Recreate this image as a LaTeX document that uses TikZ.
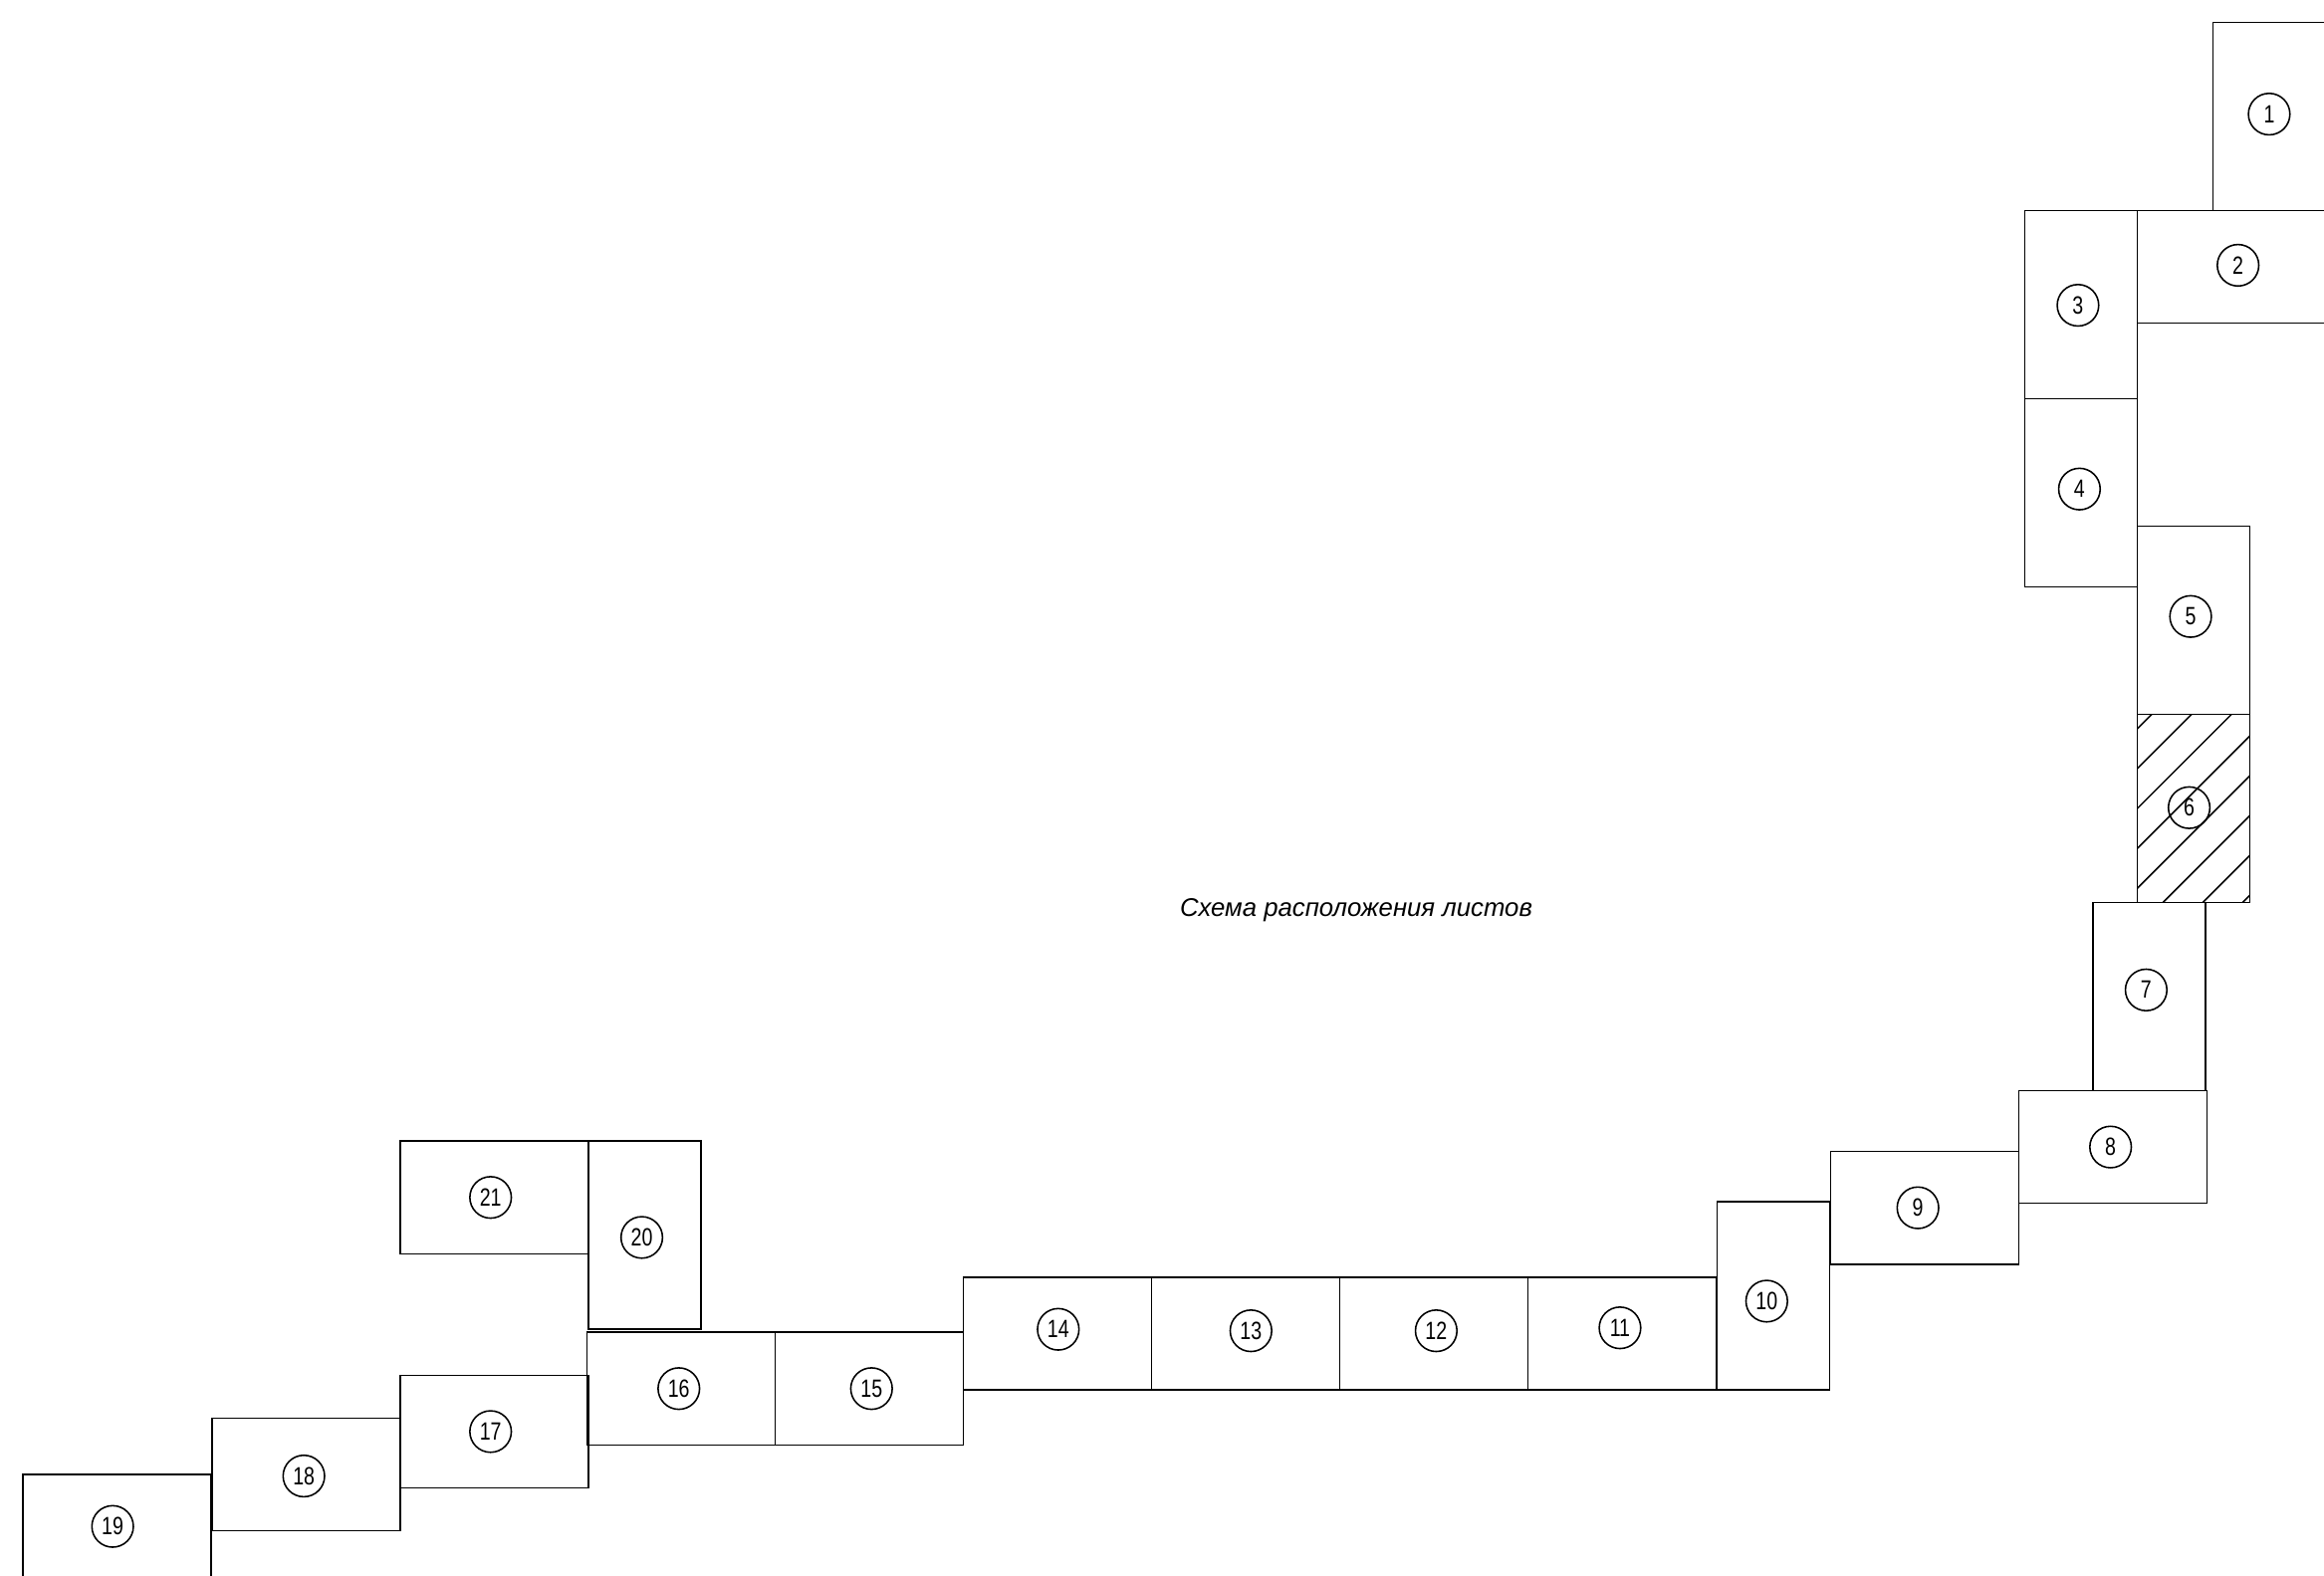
\documentclass[tikz,border=0pt]{standalone}
\usepackage{fontspec}
\setmainfont{Liberation Sans}
\newfontfamily\gostfont[FakeStretch=0.78]{Liberation Sans}
\usetikzlibrary{positioning}

\begin{document}
\begin{tikzpicture}[x=0.25mm, y=-0.25mm, line width=0.75pt, node distance=0pt,
  sheetw/.style={draw, minimum width=31.75mm, minimum height=19mm, inner sep=0pt, outer sep=0pt},
  sheett/.style={draw, minimum width=19mm, minimum height=31.75mm, inner sep=0pt, outer sep=0pt},
  num/.style={draw, circle, minimum size=7mm, inner sep=0pt, font=\gostfont\fontsize{12}{12}\selectfont}]
  \clip (0,0) rectangle (1568,1063);
  % upper right sheets
  \node[sheett] (s1) at (1531,78.5) {};
  \node[sheetw] (s2) at (1505.5,180) {};
  \node[sheett] (s3) at (1404,205.5) {};
  \node[sheett, below=of s3] (s4) {};
  \node[sheett] (s5) at (1480,418.5) {};
  \node[sheett, below=of s5] (s6) {};
  \node[sheett] (s7) at (1450,672.5) {};
  \node[sheetw] (s8) at (1425.5,774) {};
  \node[sheetw] (s9) at (1298.5,815) {};
  \node[sheett] (s10) at (1196.5,874.5) {};
  % bottom row
  \node[sheetw] (s11) at (1094.5,900) {};
  \node[sheetw, left=of s11] (s12) {};
  \node[sheetw, left=of s12] (s13) {};
  \node[sheetw, left=of s13] (s14) {};
  \node[sheetw] (s15) at (586.5,937) {};
  \node[sheetw, left=of s15] (s16) {};
  \node[sheetw] (s17) at (333.5,966) {};
  \node[sheetw] (s18) at (206.5,995) {};
  \node[sheetw] (s19) at (79,1033) {};
  \node[sheett] (s20) at (435,833.5) {};
  \node[sheetw] (s21) at (333.5,808) {};
  % hatched sheet
  \begin{scope}
    \clip (s6.south west) rectangle (s6.north east);
    \foreach \k in {0,...,7}
      \draw (1442,491.8+26.9*\k) -- ++(160,-160);
  \end{scope}
  % sheet numbers
  \node[num] (n1) at (1531,77) {1};
  \node[num] (n2) at (1510,179) {2};
  \node[num] (n3) at (1402,206) {3};
  \node[num] (n4) at (1403,330) {4};
  \node[num] (n5) at (1478,416) {5};
  \node[num] (n6) at (1477,545) {6};
  \node[num] (n7) at (1448,668) {7};
  \node[num] (n8) at (1424,774) {8};
  \node[num] (n9) at (1294,815) {9};
  \node[num] (n10) at (1192,878) {10};
  \node[num] (n11) at (1093,896) {11};
  \node[num] (n12) at (969,898) {12};
  \node[num] (n13) at (844,898) {13};
  \node[num] (n14) at (714,897) {14};
  \node[num] (n15) at (588,937) {15};
  \node[num] (n16) at (458,937) {16};
  \node[num] (n17) at (331,966) {17};
  \node[num] (n18) at (205,996) {18};
  \node[num] (n19) at (76,1030) {19};
  \node[num] (n20) at (433,835) {20};
  \node[num] (n21) at (331,808) {21};
  % caption
  \node[font=\itshape\fontsize{12.3}{12.3}\selectfont] (title) at (915,614) {Схема расположения листов};
\end{tikzpicture}
\end{document}
